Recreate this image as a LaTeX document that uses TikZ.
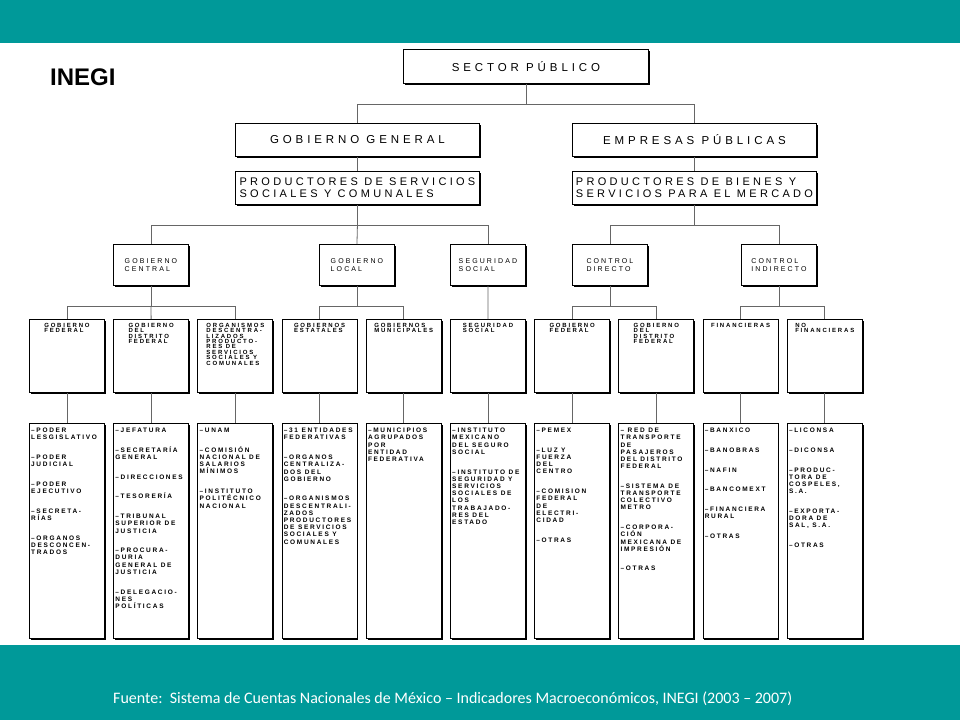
\documentclass[tikz,border=0pt]{standalone}
\usepackage{fontspec}
\setmainfont{Liberation Sans}
\newfontfamily\titlefont[LetterSpace=34]{Liberation Sans}
\newfontfamily\boxfont[LetterSpace=30]{Liberation Sans}
\newfontfamily\itemfont[LetterSpace=26]{Liberation Sans}
\newfontfamily\notefont{Carlito}
\usetikzlibrary{positioning,shadows}

\definecolor{inegiteal}{RGB}{0,153,153}
\newcommand{\igap}{\\[12.5pt]}

\tikzset{
  box/.style={draw, line width=0.9pt, fill=white, inner sep=0pt, anchor=north west,
    drop shadow={shadow xshift=1.3pt, shadow yshift=-1.3pt, opacity=1, fill=black}},
  link/.style={draw=black!60, line width=0.8pt},
  titletext/.style={font=\titlefont\fontsize{11.5}{12}\selectfont},
  toptext/.style={font=\boxfont\fontsize{11}{12}\selectfont, align=left},
  midtext/.style={font=\boxfont\fontsize{7}{8.7}\selectfont, align=left},
  headtext/.style={font=\boxfont\bfseries\fontsize{6}{5.4}\selectfont, align=left, inner sep=0pt},
  itemtext/.style={font=\itemfont\bfseries\fontsize{6.5}{7.2}\selectfont, align=left, inner sep=0pt},
}

\begin{document}
\begin{tikzpicture}[x=1pt,y=-1pt]
    \useasboundingbox (0,0) rectangle (960,720);
    \fill[inegiteal] (0,0) rectangle (960,43);
    \fill[inegiteal] (0,645) rectangle (960,720);
    \node[font=\bfseries\fontsize{24}{26}\selectfont, anchor=west, inner sep=0pt] (logo) at (50,77) {INEGI};

    % top levels
    \node[box, titletext, minimum width=245pt, minimum height=34pt] (sp) at (403,49) {SECTOR PÚBLICO};
    \node[box, titletext, minimum width=244pt, minimum height=33pt] (gg) at (235,123) {GOBIERNO GENERAL};
    \node[box, titletext, minimum width=244pt, minimum height=33pt] (ep) at (572,123) {EMPRESAS PÚBLICAS};
    \node[box, toptext, minimum width=244pt, minimum height=33pt] (pssc) at (235,171) {PRODUCTORES DE SERVICIOS\\SOCIALES Y COMUNALES};
    \node[box, toptext, minimum width=244pt, minimum height=33pt] (pbsm) at (572,171) {PRODUCTORES DE BIENES Y\\SERVICIOS PARA EL MERCADO};

    % third level
    \node[box, midtext, minimum width=75pt, minimum height=41pt] (gc) at (113,244) {GOBIERNO\\CENTRAL};
    \node[box, midtext, minimum width=75pt, minimum height=41pt] (gl) at (319,244) {GOBIERNO\\LOCAL};
    \node[box, midtext, minimum width=75pt, minimum height=41pt] (ss) at (450,244) {SEGURIDAD\\SOCIAL};
    \node[box, midtext, minimum width=75pt, minimum height=41pt] (cd) at (572,244) {CONTROL\\DIRECTO};
    \node[box, midtext, minimum width=75pt, minimum height=41pt] (ci) at (741,244) {CONTROL\\INDIRECTO};

    % fourth and fifth level boxes
    \foreach \i in {1,...,10} {
        \node[box, minimum width=75pt, minimum height=73pt] (c\i) at ({29+84.2*(\i-1)},319) {};
        \node[box, minimum width=75pt, minimum height=215pt] (d\i) at ({29+84.2*(\i-1)},423) {};
        \draw[link] (c\i) -- (d\i);
    }

    % connectors
    \draw[link] (sp.south) -- ++(0,20) coordinate (j1);
    \draw[link] (gg.north) |- (j1) -| (ep.north);
    \draw[link] (gg) -- (pssc);
    \draw[link] (ep) -- (pbsm);
    \draw[link] (pssc.south) -- ++(0,20) coordinate (j2);
    \draw[link] (gc.north) |- (j2) -| (ss.north);
    \draw[link] (j2) -- (gl.north);
    \draw[link] (pbsm.south) -- ++(0,20) coordinate (j3);
    \draw[link] (cd.north) |- (j3) -| (ci.north);
    \draw[link] (gc.south) -- ++(0,20) coordinate (j4);
    \draw[link] (c1.north) |- (j4) -| (c3.north);
    \draw[link] (j4) -- (c2.north);
    \draw[link] (gl.south) -- ++(0,20) coordinate (j5);
    \draw[link] (c4.north) |- (j5) -| (c5.north);
    \draw[link] (ss) -- (c6);
    \draw[link] (cd.south) -- ++(0,20) coordinate (j6);
    \draw[link] (c7.north) |- (j6) -| (c8.north);
    \draw[link] (ci.south) -- ++(0,20) coordinate (j7);
    \draw[link] (c9.north) |- (j7) -| (c10.north);

    % fourth level texts
    \node[headtext, below=4pt of c1.north] (c1t) {GOBIERNO\\FEDERAL};
    \node[headtext, below=4pt of c2.north] (c2t) {GOBIERNO\\DEL\\DISTRITO\\FEDERAL};
    \node[headtext, below=4pt of c3.north] (c3t) {ORGANISMOS\\DESCENTRA-\\LIZADOS\\PRODUCTO-\\RES DE\\SERVICIOS\\SOCIALES Y\\COMUNALES};
    \node[headtext, below=4pt of c4.north] (c4t) {GOBIERNOS\\ESTATALES};
    \node[headtext, below=4pt of c5.north] (c5t) {GOBIERNOS\\MUNICIPALES};
    \node[headtext, below=4pt of c6.north] (c6t) {SEGURIDAD\\SOCIAL};
    \node[headtext, below=4pt of c7.north] (c7t) {GOBIERNO\\FEDERAL};
    \node[headtext, below=4pt of c8.north] (c8t) {GOBIERNO\\DEL\\DISTRITO\\FEDERAL};
    \node[headtext, below=4pt of c9.north] (c9t) {FINANCIERAS};
    \node[headtext, below=4pt of c10.north] (c10t) {NO\\FINANCIERAS};

    % fifth level texts
    \node[itemtext, below right=5pt and 2pt of d1.north west] (d1t) {–PODER\\LESGISLATIVO\igap –PODER\\JUDICIAL\igap –PODER\\EJECUTIVO\igap –SECRETA-\\RÍAS\igap –ORGANOS\\DESCONCEN-\\TRADOS};
    \node[itemtext, below right=5pt and 2pt of d2.north west] (d2t) {–JEFATURA\igap –SECRETARÍA\\GENERAL\igap –DIRECCIONES\igap –TESORERÍA\igap –TRIBUNAL\\SUPERIOR DE\\JUSTICIA\igap –PROCURA-\\DURIA\\GENERAL DE\\JUSTICIA\igap –DELEGACIO-\\NES\\POLÍTICAS};
    \node[itemtext, below right=5pt and 2pt of d3.north west] (d3t) {–UNAM\igap –COMISIÓN\\NACIONAL DE\\SALARIOS\\MÍNIMOS\igap –INSTITUTO\\POLITÉCNICO\\NACIONAL};
    \node[itemtext, below right=5pt and 2pt of d4.north west] (d4t) {–31 ENTIDADES\\FEDERATIVAS\igap –ORGANOS\\CENTRALIZA-\\DOS DEL\\GOBIERNO\igap –ORGANISMOS\\DESCENTRALI-\\ZADOS\\PRODUCTORES\\DE SERVICIOS\\SOCIALES Y\\COMUNALES};
    \node[itemtext, below right=5pt and 2pt of d5.north west] (d5t) {–MUNICIPIOS\\AGRUPADOS\\POR\\ENTIDAD\\FEDERATIVA};
    \node[itemtext, below right=5pt and 2pt of d6.north west] (d6t) {–INSTITUTO\\MEXICANO\\DEL SEGURO\\SOCIAL\igap –INSTITUTO DE\\SEGURIDAD Y\\SERVICIOS\\SOCIALES DE\\LOS\\TRABAJADO-\\RES DEL\\ESTADO};
    \node[itemtext, below right=5pt and 2pt of d7.north west] (d7t) {–PEMEX\igap –LUZ Y\\FUERZA\\DEL\\CENTRO\igap –COMISION\\FEDERAL\\DE\\ELECTRI-\\CIDAD\igap –OTRAS};
    \node[itemtext, below right=5pt and 2pt of d8.north west] (d8t) {– RED DE\\TRANSPORTE\\DE\\PASAJEROS\\DEL DISTRITO\\FEDERAL\igap –SISTEMA DE\\TRANSPORTE\\COLECTIVO\\METRO\igap –CORPORA-\\CIÓN\\MEXICANA DE\\IMPRESIÓN\igap –OTRAS};
    \node[itemtext, below right=5pt and 2pt of d9.north west] (d9t) {–BANXICO\igap –BANOBRAS\igap –NAFIN\igap –BANCOMEXT\igap –FINANCIERA\\RURAL\igap –OTRAS};
    \node[itemtext, below right=5pt and 2pt of d10.north west] (d10t) {–LICONSA\igap –DICONSA\igap –PRODUC-\\TORA DE\\COSPELES,\\S.A.\igap –EXPORTA-\\DORA DE\\SAL, S.A.\igap –OTRAS};

    \node[font=\notefont\fontsize{16}{18}\selectfont, text=white, anchor=west, inner sep=0pt] (src) at (113,699)
        {Fuente:\ \ Sistema de Cuentas Nacionales de México – Indicadores Macroeconómicos, INEGI (2003 – 2007)};
\end{tikzpicture}
\end{document}
